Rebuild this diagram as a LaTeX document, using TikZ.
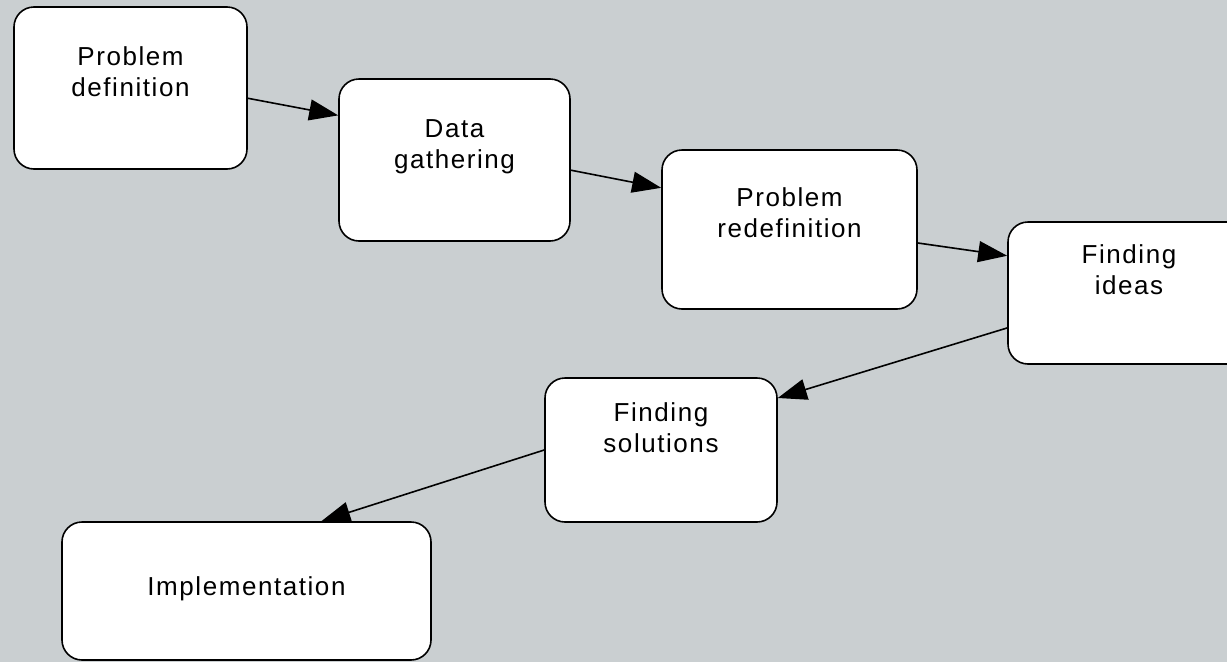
\documentclass[tikz,border=0pt]{standalone}
\usepackage{fontspec}
\setmainfont{Liberation Sans}
\newfontfamily\stagefont[LetterSpace=6]{Liberation Sans}
\usetikzlibrary{positioning,arrows.meta}
\definecolor{paper}{HTML}{CACFD1}
\definecolor{ink}{HTML}{000000}
\tikzset{
  every node/.style={text=ink},
  stagebox/.style={draw=ink, line width=1.6pt, rounded corners=20pt, fill=white, inner sep=0pt},
  stagetxt/.style={font=\stagefont\fontsize{26}{31}\selectfont, align=center, inner sep=0pt},
  arr/.style={-{Triangle[length=29pt,width=21pt]}, draw=ink, line width=1.6pt},
}

\begin{document}
\begin{tikzpicture}[x=1pt,y=-1pt]

% ---------------- backdrop ----------------
\fill[paper] (0,0) rectangle (1227,662);
\useasboundingbox (0,0) rectangle (1227,662);

% ---------------- stages ----------------
\node[stagebox, minimum width=233pt, minimum height=162pt] (pd) at (130.5,88) {};
\node[stagetxt, below=40pt of pd.north] (pdt) {Problem\\ definition};

\node[stagebox, minimum width=231pt, minimum height=162pt] (dg) at (454.5,160) {};
\node[stagetxt, below=41pt of dg.north] (dgt) {Data\\ gathering};

\node[stagebox, minimum width=255pt, minimum height=159pt] (pr) at (789.5,229.5) {};
\node[stagetxt, below=38pt of pr.north] (prt) {Problem\\ redefinition};

\node[stagebox, minimum width=242pt, minimum height=142pt] (fi) at (1129,293) {};
\node[stagetxt, below=23pt of fi.north] (fit) {Finding\\ ideas};

\node[stagebox, minimum width=232pt, minimum height=144pt] (fs) at (661,450) {};
\node[stagetxt, below=25pt of fs.north] (fst) {Finding\\ solutions};

\node[stagebox, minimum width=369pt, minimum height=138pt] (im) at (246.5,591) {};
\node[stagetxt, below=55pt of im.north] (imt) {Implementation};

% ---------------- arrows ----------------
\draw[arr] (pd.-5) -- (dg.159);
\draw[arr] (dg.-5) -- (pr.162);
\draw[arr] (pr.-6) -- (fi.163);
\draw[arr] (fi.196) -- (fs.24);
\draw[arr] (fs.west) -- (im.43);

\end{tikzpicture}
\end{document}
